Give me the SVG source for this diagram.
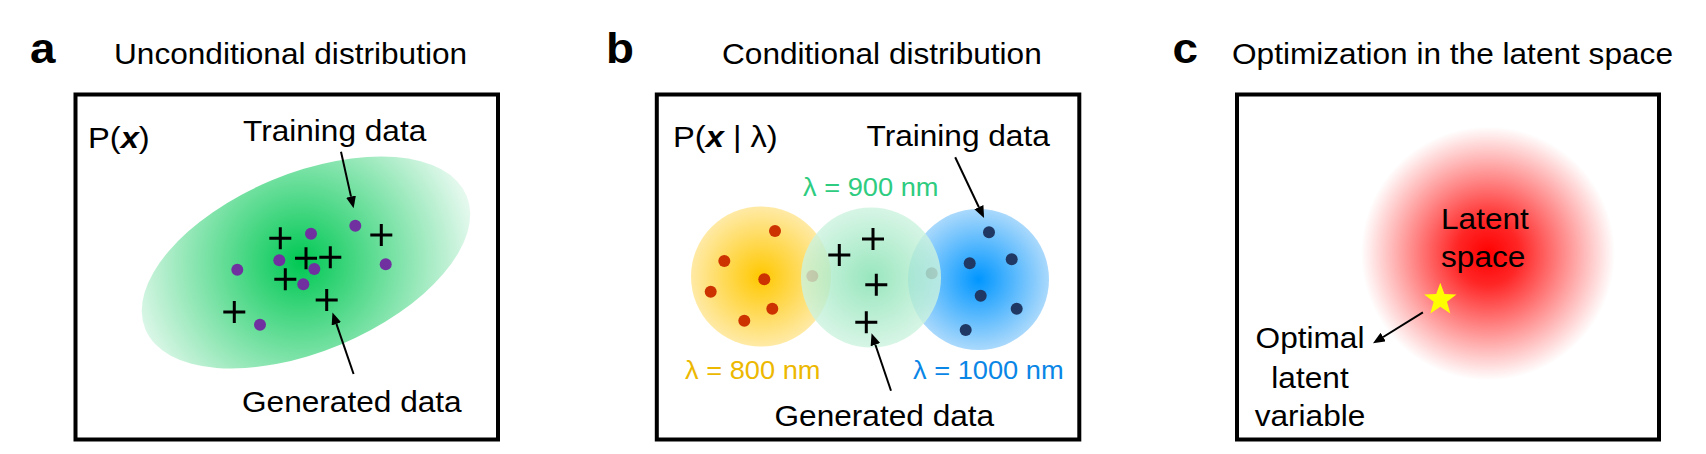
<svg xmlns="http://www.w3.org/2000/svg" xmlns:xlink="http://www.w3.org/1999/xlink" width="1706" height="454" viewBox="0 0 1706 454">
<style>
text{font-family:"Liberation Sans",Arial,sans-serif;fill:#000}
.lbl{font-size:42px;font-weight:bold}
.t{font-size:29px}
.p{font-size:30px}
.lam{font-size:25px}
.box{fill:none;stroke:#000;stroke-width:4}
.arr{stroke:#000;stroke-width:2;fill:none;marker-end:url(#ah)}
.cr{stroke:#000;stroke-width:3;fill:none}
.pd{fill:#7030a0}
.rd{fill:#cc3300}
.nd{fill:#1f3864}
</style>
<defs>
<marker id="ah" markerUnits="userSpaceOnUse" markerWidth="13" markerHeight="11" refX="0" refY="5" orient="auto">
<path d="M0,0 L12,5 L0,10 z" fill="#000"/>
</marker>
<path id="cross" d="M-11,0 H11 M0,-11 V11"/>
<radialGradient id="gA" gradientUnits="userSpaceOnUse" cx="301" cy="260" r="178">
<stop offset="0" stop-color="#00c853"/>
<stop offset="1" stop-color="#e6f9ef"/>
</radialGradient>
<radialGradient id="gY">
<stop offset="0" stop-color="#ffc800"/>
<stop offset="1" stop-color="#ffeaa6"/>
</radialGradient>
<radialGradient id="gG">
<stop offset="0" stop-color="#7fe0ae"/>
<stop offset="1" stop-color="#cdf3df"/>
</radialGradient>
<radialGradient id="gB">
<stop offset="0" stop-color="#0096ff"/>
<stop offset="1" stop-color="#aad9fc"/>
</radialGradient>
<radialGradient id="gR">
<stop offset="0" stop-color="#ff0000" stop-opacity="1"/>
<stop offset="0.25" stop-color="#ff0000" stop-opacity="0.85"/>
<stop offset="1" stop-color="#ff0000" stop-opacity="0"/>
</radialGradient>
</defs>

<g id="panel-a">
<text class="lbl" transform="translate(30,63) scale(1.09,1)">a</text>
<text class="t" transform="translate(114,64) scale(1.09,1)">Unconditional distribution</text>
<rect class="box" x="75.5" y="94.5" width="422.5" height="345"/>
<text class="p" transform="translate(88,148) scale(1.09,1)">P(<tspan font-weight="bold" font-style="italic">x</tspan>)</text>
<ellipse cx="306" cy="262.5" rx="174" ry="89" transform="rotate(-22.6 306 262.5)" fill="url(#gA)"/>
<g id="a-training">
<circle class="pd" cx="237.3" cy="269.7" r="6"/>
<circle class="pd" cx="279.3" cy="260.3" r="6"/>
<circle class="pd" cx="311" cy="233.7" r="6"/>
<circle class="pd" cx="355.3" cy="225.7" r="6"/>
<circle class="pd" cx="385.7" cy="264.3" r="6"/>
<circle class="pd" cx="314.3" cy="269" r="6"/>
<circle class="pd" cx="303.3" cy="284.3" r="6"/>
<circle class="pd" cx="260" cy="324.7" r="6"/>
</g>
<g id="a-generated" class="cr">
<use href="#cross" x="280.3" y="238.3"/>
<use href="#cross" x="306" y="258.3"/>
<use href="#cross" x="330.3" y="257.3"/>
<use href="#cross" x="285.3" y="279.3"/>
<use href="#cross" x="381.3" y="235"/>
<use href="#cross" x="326.7" y="300"/>
<use href="#cross" x="234.3" y="312"/>
</g>
<text class="t" transform="translate(243,141) scale(1.09,1)">Training data</text>
<text class="t" transform="translate(242,411.5) scale(1.09,1)">Generated data</text>
</g>

<g id="panel-b">
<text class="lbl" transform="translate(606,62.7) scale(1.09,1)">b</text>
<text class="t" transform="translate(722,64) scale(1.09,1)">Conditional distribution</text>
<rect class="box" x="656.8" y="94.5" width="422.5" height="345"/>
<text class="p" transform="translate(673,146.7) scale(1.09,1)">P(<tspan font-weight="bold" font-style="italic">x</tspan> | λ)</text>
<circle cx="761" cy="276.5" r="70" fill="url(#gY)"/>
<circle cx="978.5" cy="279.5" r="70.5" fill="url(#gB)"/>
<g id="b-800">
<circle class="rd" cx="775" cy="231" r="6"/>
<circle class="rd" cx="724.3" cy="261" r="6"/>
<circle class="rd" cx="764.3" cy="279.3" r="6"/>
<circle class="rd" cx="710.7" cy="291.7" r="6"/>
<circle class="rd" cx="772.3" cy="308.7" r="6"/>
<circle class="rd" cx="744.3" cy="320.7" r="6"/>
<circle class="rd" cx="812.3" cy="276" r="6"/>
</g>
<g id="b-1000">
<circle class="nd" cx="989" cy="232.3" r="6"/>
<circle class="nd" cx="969.7" cy="263.3" r="6"/>
<circle class="nd" cx="1011.7" cy="259.3" r="6"/>
<circle class="nd" cx="980.7" cy="295.7" r="6"/>
<circle class="nd" cx="1016.7" cy="308.7" r="6"/>
<circle class="nd" cx="965.7" cy="330" r="6"/>
<circle class="nd" cx="931.7" cy="273.3" r="6"/>
</g>
<circle cx="871" cy="277.5" r="70" fill="url(#gG)" opacity="0.8"/>
<g id="b-generated" class="cr">
<use href="#cross" x="873" y="239"/>
<use href="#cross" x="839.3" y="255"/>
<use href="#cross" x="876.3" y="284.7"/>
<use href="#cross" x="866.3" y="322.3"/>
</g>
<text class="lam" fill="#2ecc80" style="fill:#2ecc80" transform="translate(803,195.7) scale(1.09,1)">λ = 900 nm</text>
<text class="lam" style="fill:#edb800" transform="translate(685,379) scale(1.09,1)">λ = 800 nm</text>
<text class="lam" style="fill:#0a86e6" transform="translate(913,379) scale(1.09,1)">λ = 1000 nm</text>
<text class="t" transform="translate(866.5,145.7) scale(1.09,1)">Training data</text>
<text class="t" transform="translate(774.5,426) scale(1.09,1)">Generated data</text>
</g>

<g id="panel-c">
<text class="lbl" transform="translate(1172.5,62.7) scale(1.09,1)">c</text>
<text class="t" transform="translate(1232,64) scale(1.09,1)">Optimization in the latent space</text>
<rect class="box" x="1237" y="94.5" width="422" height="345"/>
<circle cx="1488" cy="253.5" r="127" fill="url(#gR)"/>
<text class="t" transform="translate(1441,228.7) scale(1.09,1)">Latent</text>
<text class="t" transform="translate(1441,266.7) scale(1.09,1)">space</text>
<polygon id="star" fill="#ffff00" transform="translate(1440.3,299.7)" points="0,-17 4.11,-5.66 16.17,-5.25 6.66,2.16 9.99,13.75 0,7 -9.99,13.75 -6.66,2.16 -16.17,-5.25 -4.11,-5.66"/>
<g text-anchor="middle">
<text class="t" transform="translate(1310,348.3) scale(1.09,1)">Optimal</text>
<text class="t" transform="translate(1310,388.3) scale(1.09,1)">latent</text>
<text class="t" transform="translate(1310,426) scale(1.09,1)">variable</text>
</g>
</g>

<g id="connectors">
<line class="arr" x1="341" y1="151.7" x2="351" y2="196.6"/>
<line class="arr" x1="353.6" y1="374" x2="336.4" y2="323.9"/>
<line class="arr" x1="955.2" y1="157.3" x2="978.9" y2="207.2"/>
<line class="arr" x1="891" y1="390.7" x2="875.4" y2="344.7"/>
<line class="arr" x1="1422.9" y1="312.3" x2="1383.2" y2="337"/>
</g>
</svg>
